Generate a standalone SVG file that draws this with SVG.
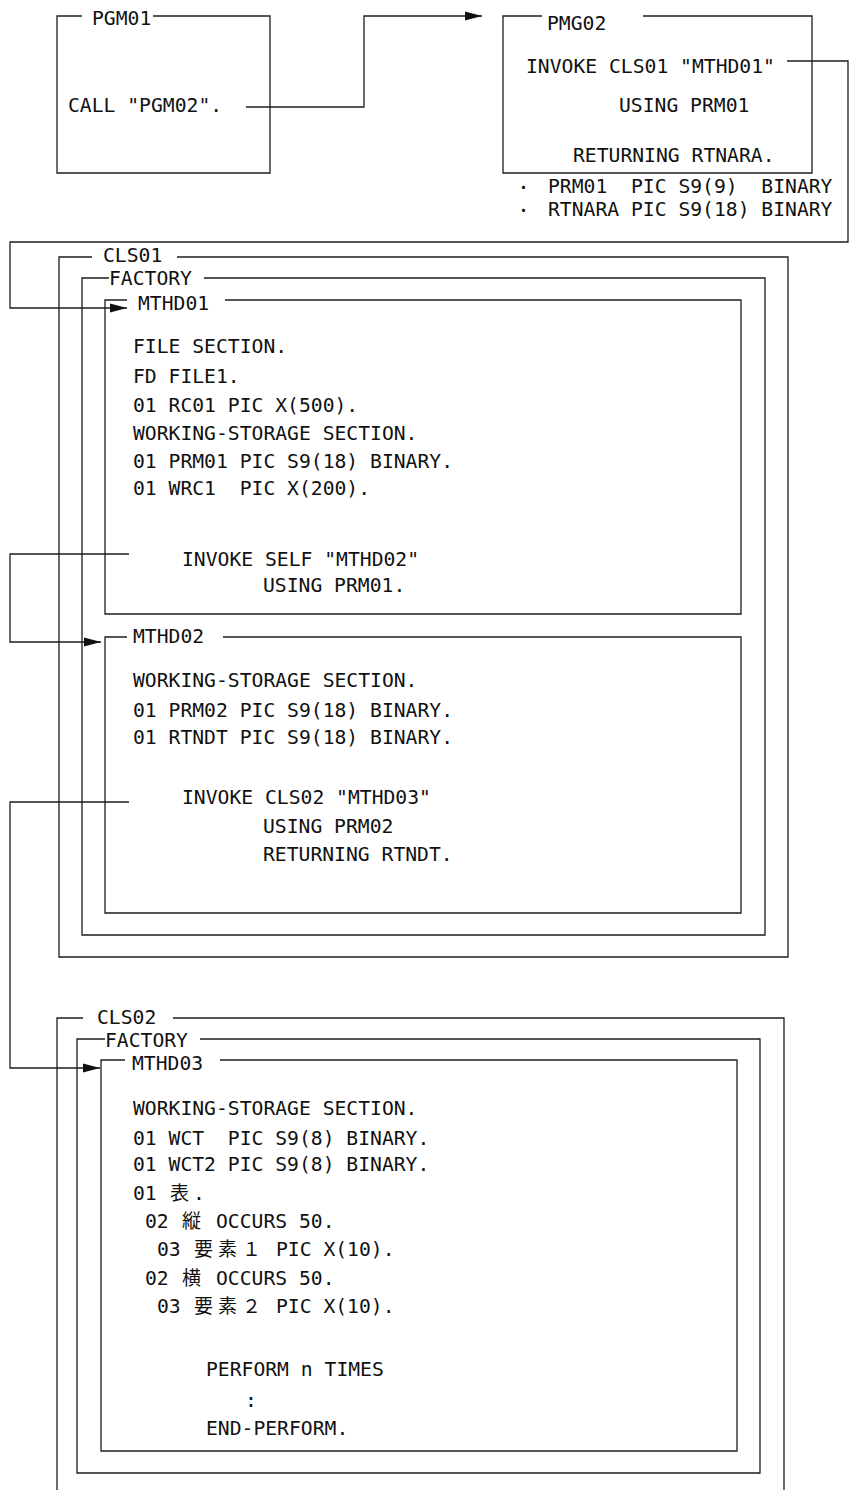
<svg xmlns="http://www.w3.org/2000/svg" width="849" height="1490" viewBox="0 0 849 1490">
<style>
.bx{fill:none;stroke:#1e1e1e;stroke-width:1.3}
.cn{fill:none;stroke:#1e1e1e;stroke-width:1.3}
text{font-family:"DejaVu Sans Mono","Liberation Mono",monospace;font-size:19.7px;fill:#111;white-space:pre}
.j{font-family:"Noto Sans CJK JP","Noto Sans CJK SC",sans-serif;font-size:19px}
.b{font-family:"Noto Sans CJK JP","Noto Sans CJK SC",sans-serif;font-size:15px}
</style>
<defs>
<marker id="arr" markerUnits="userSpaceOnUse" markerWidth="18" markerHeight="10" refX="17" refY="5" orient="auto">
<path d="M0,0.5 L17,5 L0,9.5 Z" fill="#111"/>
</marker>
</defs>
<rect width="849" height="1490" fill="#fff"/>

<g id="connectors">
<path class="cn" d="M246,107 H364 V16 H482" marker-end="url(#arr)"/>
<path class="cn" d="M787,61 H848 V242 H10 V308 H127" marker-end="url(#arr)"/>
<path class="cn" d="M129,554 H10 V642 H101" marker-end="url(#arr)"/>
<path class="cn" d="M129,802 H10 V1068 H100" marker-end="url(#arr)"/>
</g>

<g id="pgm01">
<path class="bx" d="M82,16 H57 V173 H270 V16 H153"/>
<text x="92" y="25">PGM01</text>
<text x="68" y="112">CALL "PGM02".</text>
</g>

<g id="pmg02">
<path class="bx" d="M542,16 H503 V173 H812 V16 H643"/>
<text x="547" y="30">PMG02</text>
<text x="526" y="73">INVOKE CLS01 "MTHD01"</text>
<text x="619" y="112">USING PRM01</text>
<text x="573" y="162">RETURNING RTNARA.</text>
<text y="193" xml:space="preserve"><tspan class="b" x="516">・</tspan><tspan x="548">PRM01  PIC S9(9)  BINARY</tspan></text>
<text y="216" xml:space="preserve"><tspan class="b" x="516">・</tspan><tspan x="548">RTNARA PIC S9(18) BINARY</tspan></text>
</g>

<g id="cls01">
<path class="bx" d="M92,257 H59 V957 H788 V257 H177"/>
<text x="103" y="262">CLS01</text>
</g>

<g id="cls01-factory">
<path class="bx" d="M109,278 H82 V935 H765 V278 H204"/>
<text x="109" y="285">FACTORY</text>
</g>

<g id="mthd01">
<path class="bx" d="M127,300 H105 V614 H741 V300 H225"/>
<text x="138" y="310">MTHD01</text>
<text x="133" y="353">FILE SECTION.</text>
<text x="133" y="383">FD FILE1.</text>
<text x="133" y="412">01 RC01 PIC X(500).</text>
<text x="133" y="440">WORKING-STORAGE SECTION.</text>
<text x="133" y="468">01 PRM01 PIC S9(18) BINARY.</text>
<text x="133" y="495" xml:space="preserve">01 WRC1  PIC X(200).</text>
<text x="182" y="566">INVOKE SELF "MTHD02"</text>
<text x="263" y="592">USING PRM01.</text>
</g>

<g id="mthd02">
<path class="bx" d="M127,637 H105 V913 H741 V637 H223"/>
<text x="133" y="643">MTHD02</text>
<text x="133" y="687">WORKING-STORAGE SECTION.</text>
<text x="133" y="717">01 PRM02 PIC S9(18) BINARY.</text>
<text x="133" y="744">01 RTNDT PIC S9(18) BINARY.</text>
<text x="182" y="804">INVOKE CLS02 "MTHD03"</text>
<text x="263" y="833">USING PRM02</text>
<text x="263" y="861">RETURNING RTNDT.</text>
</g>

<g id="cls02">
<path class="bx" d="M83,1018 H57 V1495 M784,1495 V1018 H173"/>
<text x="97" y="1024">CLS02</text>
</g>

<g id="cls02-factory">
<path class="bx" d="M105,1039 H77 V1473 H760 V1039 H200"/>
<text x="105" y="1047">FACTORY</text>
</g>

<g id="mthd03">
<path class="bx" d="M125,1060 H101 V1451 H737 V1060 H220"/>
<text x="132" y="1070">MTHD03</text>
<text x="133" y="1115">WORKING-STORAGE SECTION.</text>
<text x="133" y="1145" xml:space="preserve">01 WCT  PIC S9(8) BINARY.</text>
<text x="133" y="1171">01 WCT2 PIC S9(8) BINARY.</text>
<text y="1200"><tspan x="133">01</tspan><tspan class="j" x="170">表</tspan><tspan x="193">.</tspan></text>
<text y="1228"><tspan x="145">02</tspan><tspan class="j" x="182">縦</tspan><tspan x="216">OCCURS 50.</tspan></text>
<text y="1256"><tspan x="157">03</tspan><tspan class="j" x="194 218 242">要素１</tspan><tspan x="276">PIC X(10).</tspan></text>
<text y="1285"><tspan x="145">02</tspan><tspan class="j" x="182">横</tspan><tspan x="216">OCCURS 50.</tspan></text>
<text y="1313"><tspan x="157">03</tspan><tspan class="j" x="194 218 242">要素２</tspan><tspan x="276">PIC X(10).</tspan></text>
<text x="206" y="1376">PERFORM n TIMES</text>
<text x="245" y="1407">:</text>
<text x="206" y="1435">END-PERFORM.</text>
</g>
</svg>
